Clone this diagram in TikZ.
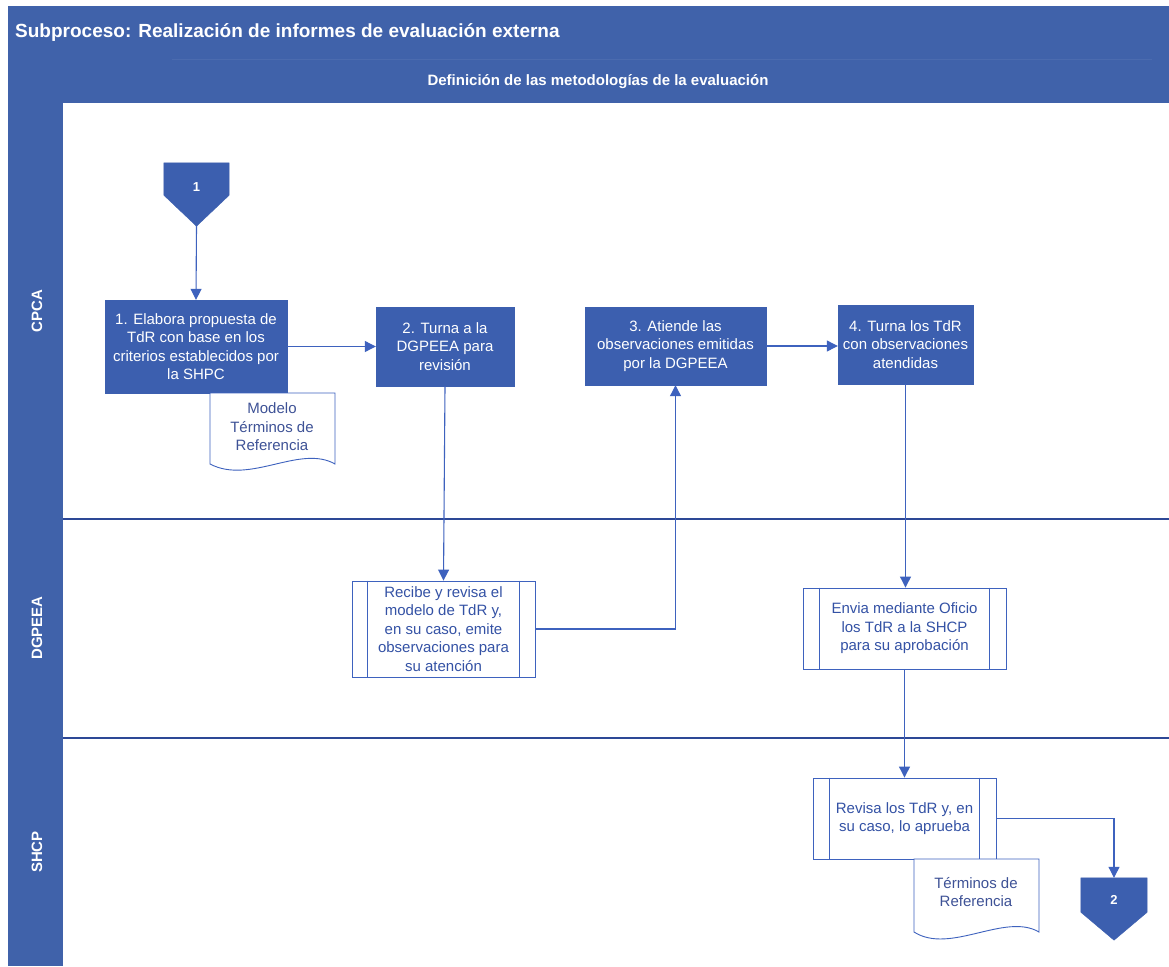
\documentclass[tikz,border=0pt]{standalone}
\usepackage{fontspec}
\setmainfont{Liberation Sans}
\usetikzlibrary{arrows.meta,calc}

\definecolor{hdrblue}{RGB}{64,98,170}
\definecolor{boxblue}{RGB}{60,95,175}
\definecolor{lineblue}{RGB}{62,98,190}
\definecolor{lanerule}{RGB}{45,72,150}
\definecolor{proctext}{RGB}{52,82,165}
\definecolor{doctext}{RGB}{62,82,150}

\newcommand{\boxfont}{\fontsize{15}{18.5}\selectfont}

\begin{document}
\begin{tikzpicture}[x=1pt,y=-1pt,
  actbox/.style={draw=boxblue, fill=boxblue, text=white, font=\boxfont,
    align=center, inner sep=0pt},
  procbox/.style={draw=lineblue, line width=0.9pt, fill=white, text=proctext,
    font=\boxfont, align=center, inner sep=0pt},
  doclabel/.style={text=doctext, font=\boxfont, align=center, inner sep=0pt},
  docshape/.style={draw=lineblue, line width=0.9pt, fill=white},
  offpage/.style={fill=boxblue, draw=boxblue},
  lanelabel/.style={text=white, font=\bfseries\fontsize{15}{18}\selectfont, rotate=90},
  flow/.style={draw=lineblue, line width=1.1pt,
    -{Triangle[length=11pt,width=11pt]}},
  flowline/.style={draw=lineblue, line width=1.1pt}
]
\useasboundingbox (0,0) rectangle (1169,966);
\fill[white] (0,0) rectangle (1169,966);

% header band and lane column
\fill[hdrblue] (8,6) rectangle (1169,103);
\fill[hdrblue] (8,103) rectangle (63,966);
\draw[white, opacity=0.06, line width=1pt] (172,60) -- (1152,60);
\node[anchor=west, text=white, font=\bfseries\fontsize{19}{22}\selectfont, inner sep=0pt]
  (title) at (15,33) {Subproceso: Realización de informes de evaluación externa};
\node[text=white, font=\bfseries\fontsize{15}{18}\selectfont, inner sep=0pt]
  (phase) at (598,82) {Definición de las metodologías de la evaluación};

% lane separators
\draw[lanerule, line width=1.2pt] (63,519) -- (1169,519);
\draw[lanerule, line width=1.2pt] (63,738) -- (1169,738);

% lane names
\node[lanelabel] (laneA) at (37,311) {CPCA};
\node[lanelabel] (laneB) at (37,628) {DGPEEA};
\node[lanelabel] (laneC) at (37,852) {SHCP};

% off-page connector 1
\node[inner sep=0pt, minimum width=65pt, minimum height=32pt] (c1) at (196.5,179) {};
\fill[offpage] (c1.north west) -- (c1.north east) -- (c1.south east)
  -- ($(c1.south)+(0,31)$) -- (c1.south west) -- cycle;
\coordinate (c1tip) at ($(c1.south)+(0,31)$);
\node[text=white, font=\bfseries\fontsize{13}{16}\selectfont] at ($(c1.center)+(0,8)$) {1};

% CPCA activities
\node[actbox, minimum width=182pt, minimum height=93pt] (b1) at (196,346.5)
  {1. Elabora propuesta de\\TdR con base en los\\criterios establecidos por\\la SHPC};
\node[actbox, minimum width=138pt, minimum height=79pt] (b2) at (445,346.5)
  {2. Turna a la\\DGPEEA para\\revisión};
\node[actbox, minimum width=181pt, minimum height=78pt] (b3) at (675.5,346)
  {3. Atiende las\\observaciones emitidas\\por la DGPEEA};
\node[actbox, minimum width=135pt, minimum height=79pt] (b4) at (905.5,344.5)
  {4. Turna los TdR\\con observaciones\\atendidas};

% document: Modelo Terminos de Referencia
\draw[docshape] (210,393) -- (335,393) -- (335,464)
  .. controls (300,444) and (250,485) .. (210,464) -- cycle;
\node[doclabel] (d1) at (272,427) {Modelo\\Términos de\\Referencia};

% DGPEEA predefined processes
\node[procbox, minimum width=183pt, minimum height=96pt] (p1) at (443.5,629)
  {Recibe y revisa el\\modelo de TdR y,\\en su caso, emite\\observaciones para\\su atención};
\draw[lineblue, line width=0.9pt] ([xshift=16pt]p1.north west) -- ([xshift=16pt]p1.south west);
\draw[lineblue, line width=0.9pt] ([xshift=-16pt]p1.north east) -- ([xshift=-16pt]p1.south east);

\node[procbox, minimum width=203pt, minimum height=81pt] (p2) at (904.5,628.5)
  {Envia mediante Oficio\\los TdR a la SHCP\\para su aprobación};
\draw[lineblue, line width=0.9pt] ([xshift=17pt]p2.north west) -- ([xshift=17pt]p2.south west);
\draw[lineblue, line width=0.9pt] ([xshift=-17pt]p2.north east) -- ([xshift=-17pt]p2.south east);

% SHCP predefined process
\node[procbox, minimum width=183pt, minimum height=81pt] (p3) at (904.5,818.5)
  {Revisa los TdR y, en\\su caso, lo aprueba};
\draw[lineblue, line width=0.9pt] ([xshift=17pt]p3.north west) -- ([xshift=17pt]p3.south west);
\draw[lineblue, line width=0.9pt] ([xshift=-17pt]p3.north east) -- ([xshift=-17pt]p3.south east);

% document: Terminos de Referencia
\draw[docshape] (914,859) -- (1039,859) -- (1039,932)
  .. controls (1005,912) and (950,955) .. (914,932) -- cycle;
\node[doclabel] (d2) at (976,892) {Términos de\\Referencia};

% off-page connector 2
\node[inner sep=0pt, minimum width=66pt, minimum height=34pt] (c2) at (1114,895) {};
\fill[offpage] (c2.north west) -- (c2.north east) -- (c2.south east)
  -- ($(c2.south)+(0,28)$) -- (c2.south west) -- cycle;
\node[text=white, font=\bfseries\fontsize{13}{16}\selectfont] at ($(c2.center)+(0,5)$) {2};

% flow
\draw[flow] (c1tip) -- (b1.north);
\draw[flow] (b1.east) -- (b2.west);
\draw[flow] (b2.south) -- (p1.north);
\draw[flow] (p1.east) -| (b3.south);
\draw[flow] (b3.east) -- (b3.east -| b4.west);
\draw[flow] (b4.south) -- (b4.south |- p2.north);
\draw[flow] (p2.south) -- (p3.north);
\draw[flow] (p3.east) -| (c2.north);
\end{tikzpicture}
\end{document}
